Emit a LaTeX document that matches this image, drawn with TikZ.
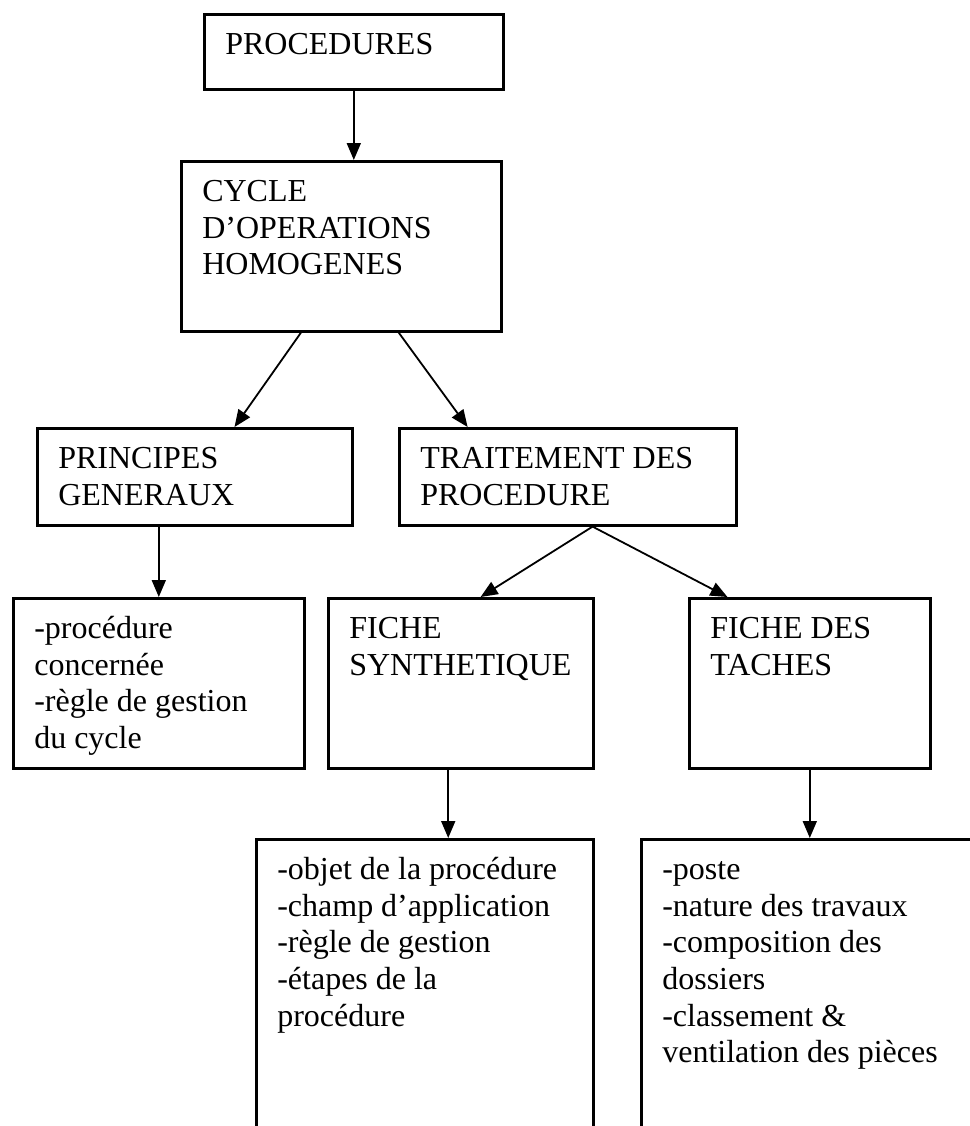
\documentclass[tikz,border=0pt]{standalone}
\usepackage{fontspec}
\setmainfont{Liberation Serif}
\usetikzlibrary{calc,arrows.meta}
\newcommand\boxtxt[3]{\parbox[t][#2][t]{#1}{\raggedright\setlength\leftskip{10.5pt}\fontsize{16}{18.35}\selectfont\rule{0pt}{20pt}#3}}
\tikzset{
  box/.style={draw, line width=1.3pt, inner sep=0pt, anchor=north west},
  arr/.style={line width=0.9pt, -{Triangle[length=8.5pt,width=7pt]}}
}
\begin{document}
\begin{tikzpicture}[x=0.5pt,y=-0.5pt]
\useasboundingbox (0,0) rectangle (970,1126);
\clip (0,0) rectangle (970,1126);
\node[box] (proc) at (203,13) {\boxtxt{149.5pt}{37.5pt}{PROCEDURES}};
\node[box] (cycle) at (180,160) {\boxtxt{160pt}{85pt}{CYCLE\\ D’OPERATIONS\\ HOMOGENES}};
\node[box] (princ) at (36,427) {\boxtxt{157.5pt}{48.5pt}{PRINCIPES\\ GENERAUX}};
\node[box] (trait) at (398,427) {\boxtxt{168.5pt}{48.5pt}{TRAITEMENT DES\\ PROCEDURE}};
\node[box] (b1) at (12,597) {\boxtxt{145.5pt}{85pt}{-procédure\\ concernée\\ -règle de gestion\\ du cycle}};
\node[box] (synth) at (327,597) {\boxtxt{132.5pt}{85pt}{FICHE\\ SYNTHETIQUE}};
\node[box] (taches) at (688,597) {\boxtxt{120.5pt}{85pt}{FICHE DES\\ TACHES}};
\node[box] (b2) at (255,838) {\boxtxt{168.5pt}{160pt}{-objet de la procédure\\ -champ d’application\\ -règle de gestion\\ -étapes de la\\ procédure}};
\node[box] (b3) at (640,838) {\boxtxt{180pt}{160pt}{-poste\\ -nature des travaux\\ -composition des\\ dossiers\\ -classement \&\\ ventilation des pièces}};

\draw[arr] (proc.south) -- (proc.south |- cycle.north);
\draw[arr] ($(cycle.south west)!0.375!(cycle.south east)$) -- ($(princ.north west)!0.625!(princ.north east)$);
\draw[arr] ($(cycle.south west)!0.678!(cycle.south east)$) -- ($(trait.north west)!0.205!(trait.north east)$);
\draw[arr] (b1.north |- princ.south) -- (b1.north);
\draw[arr] ($(trait.south west)!0.573!(trait.south east)$) -- ($(synth.north west)!0.574!(synth.north east)$);
\draw[arr] ($(trait.south west)!0.573!(trait.south east)$) -- ($(taches.north west)!0.162!(taches.north east)$);
\coordinate (s1) at ($(synth.south west)!0.453!(synth.south east)$);
\draw[arr] (s1) -- (s1 |- b2.north);
\draw[arr] (taches.south) -- (taches.south |- b3.north);
\end{tikzpicture}
\end{document}
